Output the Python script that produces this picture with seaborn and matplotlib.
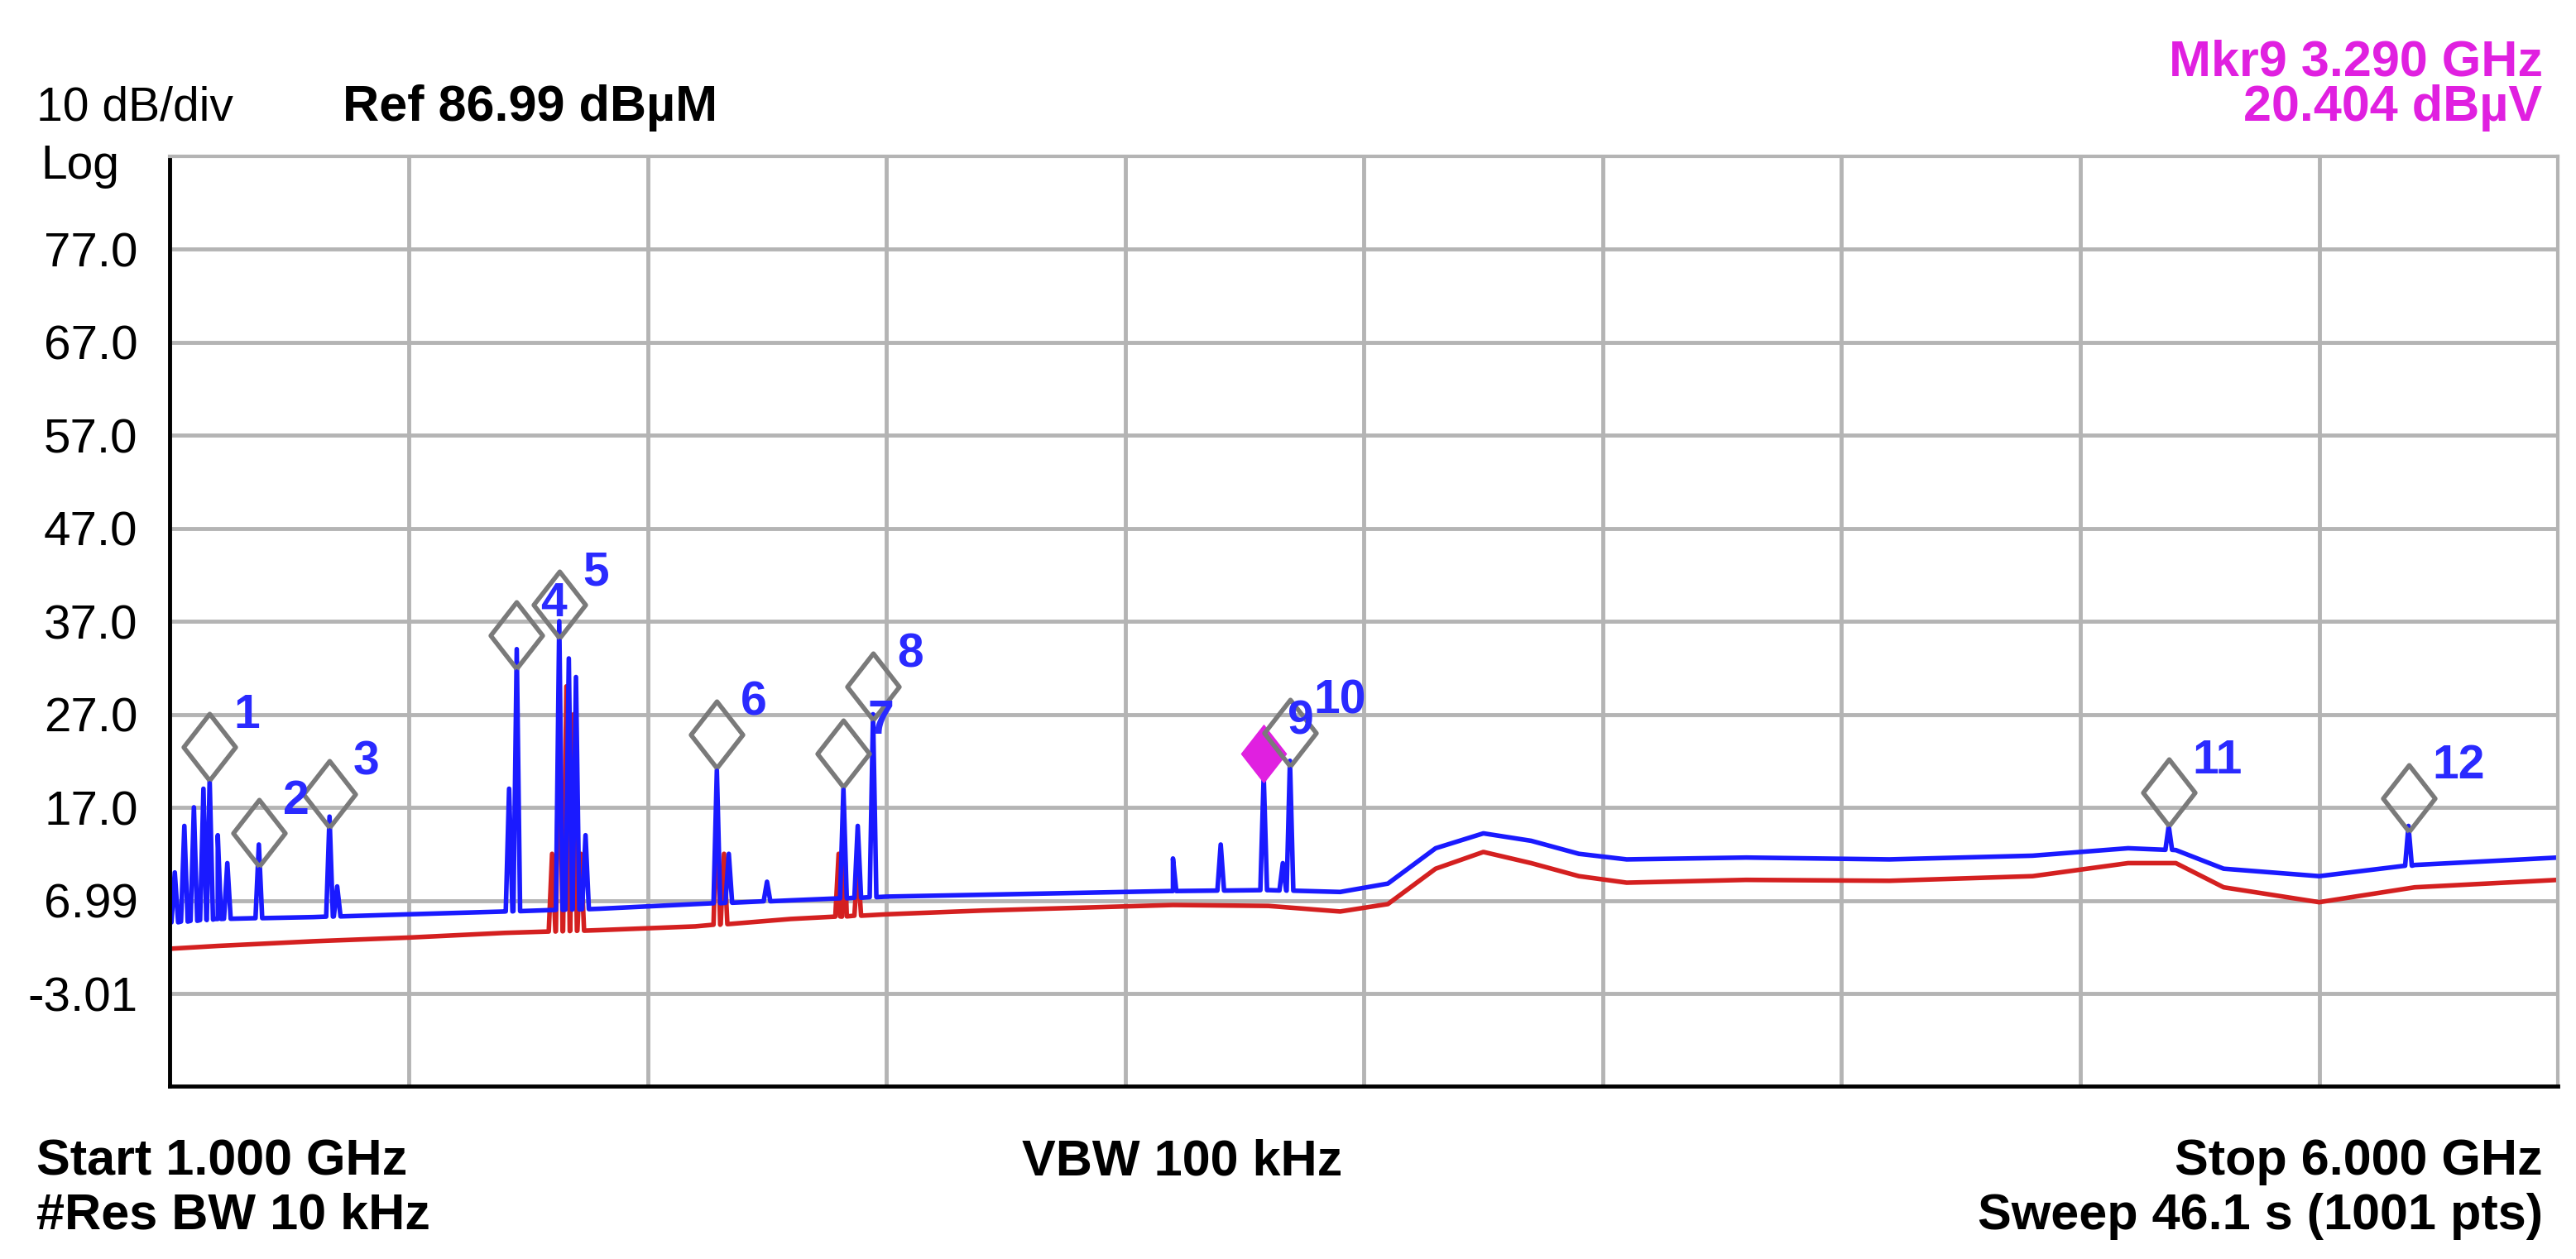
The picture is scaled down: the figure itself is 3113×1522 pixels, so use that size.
import numpy as np
import pandas as pd
import matplotlib
matplotlib.use("Agg")
import matplotlib.pyplot as plt
import seaborn as sns

# ---- data (GHz, dBuV) ----
base_f = [1.00, 1.10, 1.30, 1.50, 1.70, 1.90, 2.10, 2.30, 2.50, 2.70, 2.90, 3.10, 3.30,
          3.45, 3.55, 3.65, 3.75, 3.85, 3.95, 4.05, 4.30, 4.60, 4.90, 5.10, 5.20, 5.30,
          5.50, 5.70, 6.00]
blue_base = [4.6, 5.0, 5.2, 5.5, 5.8, 6.1, 6.6, 7.0, 7.4, 7.6, 7.8, 8.0, 8.1,
             7.9, 8.8, 12.6, 14.2, 13.4, 12.0, 11.4, 11.6, 11.4, 11.8, 12.6, 12.4, 10.4,
             9.6, 10.8, 11.6]
red_base = [1.8, 2.1, 2.6, 3.0, 3.5, 3.8, 4.2, 5.0, 5.5, 5.9, 6.2, 6.5, 6.4,
            5.8, 6.6, 10.4, 12.2, 11.0, 9.6, 8.9, 9.2, 9.1, 9.6, 11.0, 11.0, 8.4,
            6.8, 8.4, 9.2]

# spikes on the blue (max hold) trace
blue_spike_f = [1.01, 1.03, 1.05, 1.07, 1.083, 1.10, 1.12, 1.186, 1.334, 1.35,
                1.71, 1.726, 1.815, 1.835, 1.85, 1.87, 2.145, 2.17, 2.25, 2.41, 2.44, 2.472,
                3.10, 3.20, 3.29, 3.33, 3.345, 5.185, 5.687]
blue_spike_v = [10.0, 15.0, 17.0, 19.0, 20.0, 14.0, 11.0, 13.0, 16.0, 8.5,
                19.0, 34.0, 37.0, 33.0, 31.0, 14.0, 21.0, 12.0, 9.0, 19.0, 15.0, 27.0,
                11.5, 13.0, 20.4, 11.0, 22.0, 15.0, 15.0]
# spikes on the red (average) trace
red_spike_f = [1.80, 1.815, 1.83, 1.845, 1.86, 2.145, 2.16, 2.40, 2.41, 2.44]
red_spike_v = [12.0, 29.0, 30.0, 27.0, 12.0, 17.0, 12.0, 12.0, 17.0, 11.0]

# markers: frequency, diamond level, label
mkr_f = [1.083, 1.186, 1.334, 1.726, 1.815, 2.145, 2.41, 2.472, 3.29, 3.345, 5.185, 5.687]
mkr_v = [23.5, 14.2, 18.4, 35.5, 38.8, 24.8, 22.8, 30.0, 22.8, 25.0, 18.6, 18.0]
mkr_lbl = ["1", "2", "3", "4", "5", "6", "7", "8", "9", "10", "11", "12"]

y_ticks = [76.99, 66.99, 56.99, 46.99, 36.99, 26.99, 16.99, 6.99, -3.01]
y_tick_lbl = ["77.0", "67.0", "57.0", "47.0", "37.0", "27.0", "17.0", "6.99", "-3.01"]


def build_trace(bf, bv, sf, sv, width=0.007):
    f = list(bf)
    v = list(bv)
    for x, peak in zip(sf, sv):
        b = float(np.interp(x, bf, bv))
        f += [x - width, x, x + width]
        v += [b, peak, b]
    order = np.argsort(f, kind="stable")
    return np.array(f)[order], np.array(v)[order]


bf, bv = build_trace(base_f, blue_base, blue_spike_f, blue_spike_v)
rf, rv = build_trace(base_f, red_base, red_spike_f, red_spike_v)
df = pd.concat([
    pd.DataFrame({"freq": rf, "level": rv, "trace": "avg"}),
    pd.DataFrame({"freq": bf, "level": bv, "trace": "max"}),
])

sns.set_theme(style="white")
plt.rcParams['font.family'] = ['Liberation Sans', 'DejaVu Sans']
plt.rcParams['text.color'] = 'black'

fig = plt.figure(figsize=(31.13, 15.22), dpi=100)
ax = fig.add_axes([0.066, 0.137, 0.927, 0.739])

sns.lineplot(data=df, x="freq", y="level", hue="trace", sort=False,
             palette={"avg": "#d42020", "max": "#1a1aff"}, lw=4, legend=False,
             estimator=None, ax=ax)

ax.set_xlim(1.0, 6.0)
ax.set_ylim(-13.01, 86.99)
ax.set_xticks(np.linspace(1.0, 6.0, 11))
ax.set_xticklabels([])
ax.set_yticks(y_ticks)
ax.set_yticklabels(y_tick_lbl, fontsize=42, color="black")
ax.tick_params(length=0, pad=28)
ax.set_xlabel("")
ax.set_ylabel("")
ax.grid(True, color="#b4b4b4", lw=3.5)
ax.set_axisbelow(True)
for s in ["top", "right"]:
    ax.spines[s].set_color("#b4b4b4")
    ax.spines[s].set_linewidth(3)
for s in ["left", "bottom"]:
    ax.spines[s].set_color("black")
    ax.spines[s].set_linewidth(3.5)

diamond = [(0, -1), (0.78, 0), (0, 1), (-0.78, 0), (0, -1)]
for x, y, lbl in zip(mkr_f, mkr_v, mkr_lbl):
    if lbl == "9":
        ax.plot(x, y, marker=diamond, ms=50, color="#e020e0", zorder=5)
    else:
        ax.plot(x, y, marker=diamond, ms=58, mfc="none", mec="#7a7a7a", mew=4, zorder=5)
    ax.text(x + 0.05, y + 1.0, lbl, color="#2a2aff", fontsize=41,
            fontweight="bold", ha="left", va="bottom", zorder=6)

# header / footer text
fs = 44
fig.text(0.014, 0.914, "10 dB/div", fontsize=41, va="center")
fig.text(0.133, 0.914, "Ref 86.99 dBµM", fontsize=fs, fontweight="bold", va="center")
fig.text(0.016, 0.868, "Log", fontsize=41, va="center")
fig.text(0.987, 0.950, "Mkr9 3.290 GHz", fontsize=fs, fontweight="bold",
         color="#e020e0", ha="right", va="center")
fig.text(0.987, 0.914, "20.404 dBµV", fontsize=fs, fontweight="bold",
         color="#e020e0", ha="right", va="center")
fig.text(0.014, 0.077, "Start 1.000 GHz", fontsize=fs, fontweight="bold", va="center")
fig.text(0.014, 0.034, "#Res BW 10 kHz", fontsize=fs, fontweight="bold", va="center")
fig.text(0.459, 0.077, "VBW 100 kHz", fontsize=fs, fontweight="bold", ha="center", va="center")
fig.text(0.987, 0.077, "Stop 6.000 GHz", fontsize=fs, fontweight="bold", ha="right", va="center")
fig.text(0.987, 0.034, "Sweep 46.1 s (1001 pts)", fontsize=fs, fontweight="bold",
         ha="right", va="center")

fig.savefig("out.png", dpi=100, facecolor="white")
